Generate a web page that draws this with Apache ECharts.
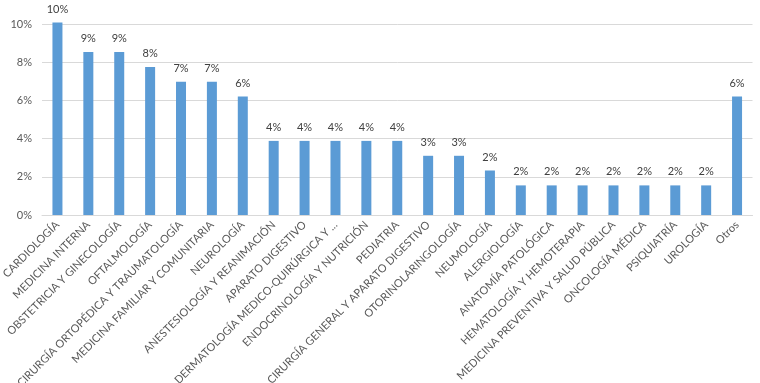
<!DOCTYPE html>
<html><head><meta charset="utf-8">
<script src="https://cdn.jsdelivr.net/npm/echarts@6/dist/echarts.min.js"></script>
<style>html,body{margin:0;padding:0;background:#fff}#c{width:760px;height:383px}</style>
</head><body><div id="c"></div>
<script>
const categories = ["CARDIOLOGÍA","MEDICINA INTERNA","OBSTETRICIA Y GINECOLOGÍA","OFTALMOLOGÍA","CIRURGÍA ORTOPÉDICA Y TRAUMATOLOGÍA","MEDICINA FAMILIAR Y COMUNITARIA","NEUROLOGÍA","ANESTESIOLOGÍA Y REANIMACIÓN","APARATO DIGESTIVO","DERMATOLOGÍA MEDICO-QUIRÚRGICA Y ...","ENDOCRINOLOGÍA Y NUTRICIÓN","PEDIATRIA","CIRURGÍA GENERAL Y APARATO DIGESTIVO","OTORINOLARINGOLOGÍA","NEUMOLOGÍA","ALERGIOLOGÍA","ANATOMÍA PATOLÓGICA","HEMATOLOGÍA Y HEMOTERAPIA","MEDICINA PREVENTIVA Y SALUD PÚBLICA","ONCOLOGÍA MÉDICA","PSIQUIATRÍA","UROLOGÍA","Otros"];
const values = [10.08,8.53,8.53,7.75,6.98,6.98,6.20,3.88,3.88,3.88,3.88,3.88,3.10,3.10,2.33,1.55,1.55,1.55,1.55,1.55,1.55,1.55,6.20];
const yTicks = [0,2,4,6,8,10];
const chart = echarts.init(document.getElementById('c'), null, {renderer:'canvas'});
const font = 'Lato, "Liberation Sans", sans-serif';
chart.setOption({
  animation:false,
  grid:{left:42,right:7.5,top:24,bottom:168,outerBoundsMode:'none',containLabel:false},
  xAxis:{type:'category',data:categories,
    axisLine:{lineStyle:{color:'#d9d9d9'}},axisTick:{show:false},
    axisLabel:{rotate:45,interval:0,margin:8,color:'#595959',fontSize:11,fontFamily:font}},
  yAxis:{type:'value',min:yTicks[0],max:yTicks[yTicks.length-1],interval:2,
    axisLine:{show:false},axisTick:{show:false},
    splitLine:{lineStyle:{color:'#d9d9d9'}},
    axisLabel:{formatter:'{value}%',color:'#595959',fontSize:11,fontFamily:font,margin:10}},
  series:[{type:'bar',data:values,barWidth:10,clip:false,
    itemStyle:{color:'#5b9bd5'},
    label:{show:true,position:'top',distance:8,color:'#404040',fontSize:11,fontFamily:font,
      formatter:p=>Math.round(p.value)+'%'}}]
});
</script></body></html>
